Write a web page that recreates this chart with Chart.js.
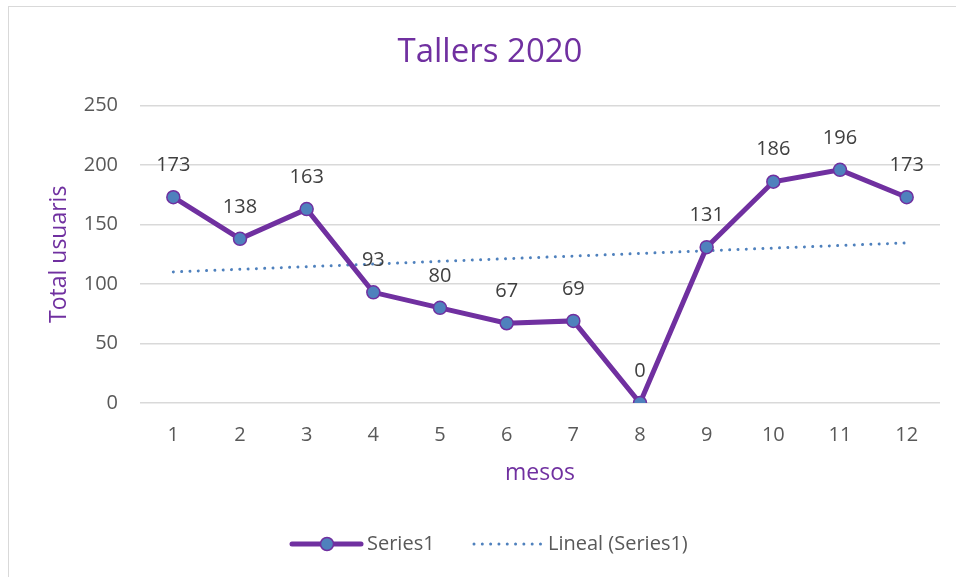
<!DOCTYPE html>
<html lang="ca">
<head>
<meta charset="UTF-8">
<title>Tallers 2020</title>
<script src="https://cdn.jsdelivr.net/npm/chart.js@4/dist/chart.umd.min.js"></script>
<style>
	html, body { margin: 0; padding: 0; background: #fff; }
	#wrap { position: relative; width: 956px; height: 577px; }
	#frame { position: absolute; left: 8px; top: 6px; right: -4px; bottom: -4px; border: 1px solid #d9d9d9; }
	#chart { position: absolute; left: 0; top: 0; }
</style>
</head>
<body>
<div id="wrap">
	<div id="frame"></div>
	<canvas id="chart" width="956" height="577"></canvas>
</div>
<script>
// chart data
var months = ['1','2','3','4','5','6','7','8','9','10','11','12'];
var users = [173, 138, 163, 93, 80, 67, 69, 0, 131, 186, 196, 173];
var trend = [110.2, 112.4, 114.6, 116.8, 119.1, 121.3, 123.5, 125.7, 128.0, 130.2, 132.4, 134.6];
var yTicks = [0, 50, 100, 150, 200, 250];

var purple = '#7030A0';
var blue = '#4F81BD';
var grey = '#595959';
var font = '"Open Sans", "Noto Sans", sans-serif';

// value labels above the points of the first series
var valueLabels = {
	id: 'valueLabels',
	afterDatasetsDraw: function(chart) {
		var ctx = chart.ctx;
		var meta = chart.getDatasetMeta(0);
		ctx.save();
		ctx.font = '20px ' + font;
		ctx.fillStyle = '#404040';
		ctx.textAlign = 'center';
		ctx.textBaseline = 'middle';
		meta.data.forEach(function(pt, i) {
			ctx.fillText(String(users[i]), pt.x, pt.y - 32);
		});
		ctx.restore();
	}
};

// legend drawn by hand: line with marker, and dotted trend
var bottomLegend = {
	id: 'bottomLegend',
	afterDraw: function(chart) {
		var ctx = chart.ctx;
		var y = 544;
		ctx.save();
		ctx.lineCap = 'round';
		ctx.strokeStyle = purple;
		ctx.lineWidth = 5;
		ctx.beginPath();
		ctx.moveTo(292, y); ctx.lineTo(361, y);
		ctx.stroke();
		ctx.beginPath();
		ctx.arc(327, y, 6.5, 0, Math.PI * 2);
		ctx.fillStyle = blue;
		ctx.fill();
		ctx.lineWidth = 1.5;
		ctx.stroke();

		ctx.strokeStyle = blue;
		ctx.lineWidth = 3;
		ctx.setLineDash([0.01, 8.3]);
		ctx.beginPath();
		ctx.moveTo(474, y); ctx.lineTo(541, y);
		ctx.stroke();
		ctx.setLineDash([]);

		ctx.font = '20px ' + font;
		ctx.fillStyle = grey;
		ctx.textBaseline = 'middle';
		ctx.fillText('Series1', 367, y);
		ctx.fillText('Lineal (Series1)', 548, y);
		ctx.restore();
	}
};

var ctx = document.getElementById('chart').getContext('2d');
var chart = new Chart(ctx, {
	type: 'line',
	data: {
		labels: months,
		datasets: [{
			label: 'Series1',
			data: users,
			borderColor: purple,
			borderWidth: 5,
			backgroundColor: blue,
			pointBackgroundColor: blue,
			pointBorderColor: purple,
			pointBorderWidth: 1.5,
			pointRadius: 6.5,
			tension: 0,
			order: 1
		}, {
			label: 'Lineal (Series1)',
			data: trend,
			borderColor: blue,
			borderWidth: 3,
			borderDash: [0.01, 8.3],
			borderCapStyle: 'round',
			pointRadius: 0,
			tension: 0,
			order: 2
		}]
	},
	options: {
		responsive: false,
		animation: false,
		layout: { padding: { left: 40, right: 16, top: 0, bottom: 80 } },
		plugins: {
			legend: { display: false },
			tooltip: { enabled: false },
			title: {
				display: true,
				text: 'Tallers 2020',
				color: purple,
				font: { family: font, size: 33, weight: 'normal' },
				padding: { top: 33, bottom: 33 }
			}
		},
		scales: {
			x: {
				offset: true,
				afterFit: function(scale) { scale.height = 94; },
				grid: { display: false },
				border: { display: false },
				ticks: { color: grey, font: { family: font, size: 20 }, padding: 12 },
				title: { display: true, text: 'mesos', color: purple, font: { family: font, size: 23 }, padding: { top: 4, bottom: 10 } }
			},
			y: {
				min: 0,
				max: 250,
				afterFit: function(scale) { scale.width = 100; },
				afterBuildTicks: function(scale) {
					scale.ticks = yTicks.map(function(v) { return { value: v }; });
				},
				grid: { color: '#d9d9d9', lineWidth: 1.5, drawTicks: false },
				border: { display: false },
				ticks: { color: grey, font: { family: font, size: 20 }, padding: 22 },
				title: { display: true, text: 'Total usuaris', color: purple, font: { family: font, size: 23 }, padding: { top: 6, bottom: 4 } }
			}
		}
	},
	plugins: [valueLabels, bottomLegend]
});
</script>
</body>
</html>
